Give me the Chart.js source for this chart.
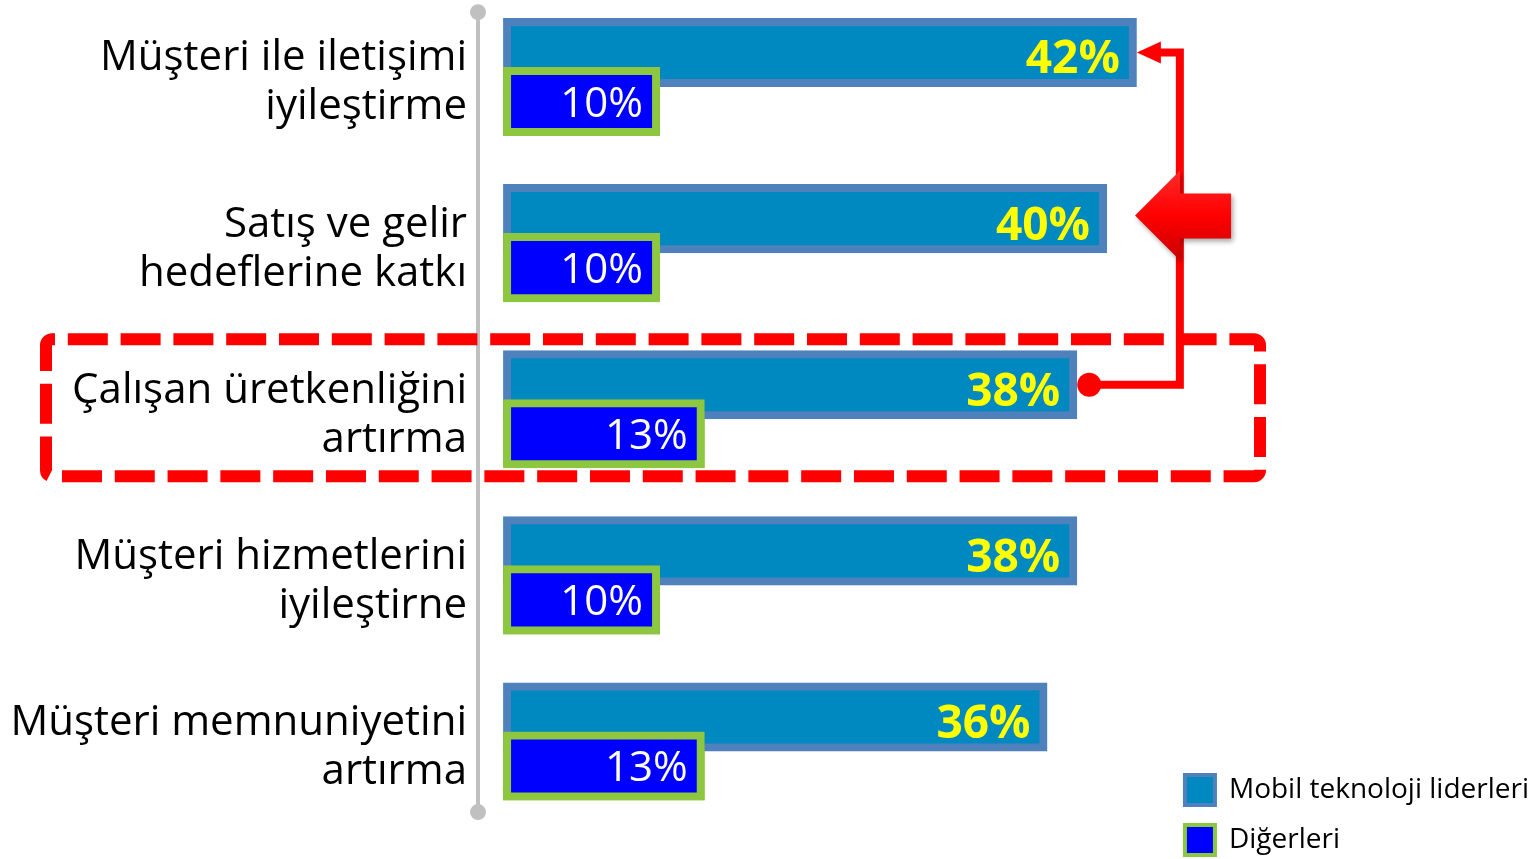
<!DOCTYPE html>
<html lang="tr">
<head>
<meta charset="utf-8">
<title>Mobil teknoloji liderleri vs Diğerleri</title>
<script src="https://cdn.jsdelivr.net/npm/chart.js@4.4.1/dist/chart.umd.min.js"></script>
<style>
  html, body { margin: 0; padding: 0; background: #fff; }
  #wrap { position: relative; width: 1539px; height: 859px; }
</style>
</head>
<body>
<div id="wrap"><canvas id="chart"></canvas></div>
<script>
/* ── Data ──────────────────────────────────────────────── */
const categories = [
  ['Müşteri ile iletişimi', 'iyileştirme'],
  ['Satış ve gelir', 'hedeflerine katkı'],
  ['Çalışan üretkenliğini', 'artırma'],
  ['Müşteri hizmetlerini', 'iyileştirne'],
  ['Müşteri memnuniyetini', 'artırma']
];
const leaders = [42, 40, 38, 38, 36];
const others  = [10, 10, 13, 10, 13];
const seriesNames = ['Mobil teknoloji liderleri', 'Diğerleri'];
const highlightIndex = 2;   // row inside the dashed box

const FONT = "'Open Sans', 'Noto Sans', sans-serif";
const PX_PER_PCT = 14.9;    // horizontal scale of the bars
const X_MIN = -1.95;        // gap between grey axis and bar start
const RED = '#FF0000';

/* ── Push the category labels down a touch ─────────────── */
const labelNudge = {
  id: 'labelNudge',
  afterLayout(chart) {
    const y = chart.scales.y;
    if (y._nudged) return;
    const draw = y.drawLabels;
    y.drawLabels = function (area) {
      this.ctx.save();
      this.ctx.translate(0, 6);
      draw.call(this, area);
      this.ctx.restore();
    };
    y._nudged = true;
  }
};

/* ── Grey axis with round ends (behind the bars) ───────── */
const axisLine = {
  id: 'axisLine',
  beforeDatasetsDraw(chart) {
    const { ctx, chartArea, scales: { y } } = chart;
    const step = y.getPixelForValue(1) - y.getPixelForValue(0);
    const x = chartArea.left;
    const top = y.getPixelForValue(0) - step * 0.39;
    const bottom = y.getPixelForValue(categories.length - 1) + step * 0.425;
    ctx.save();
    ctx.strokeStyle = '#C0C0C0';
    ctx.fillStyle = '#C0C0C0';
    ctx.lineWidth = 4;
    ctx.beginPath();
    ctx.moveTo(x, top);
    ctx.lineTo(x, bottom);
    ctx.stroke();
    [top, bottom].forEach(py => {
      ctx.beginPath();
      ctx.arc(x, py, 8, 0, Math.PI * 2);
      ctx.fill();
    });
    ctx.restore();
  }
};

/* ── Bar value labels ──────────────────────────────────── */
const barLabels = {
  id: 'barLabels',
  afterDatasetsDraw(chart) {
    const ctx = chart.ctx;
    // "Diğerleri" sits on top of the leaders bar
    chart.getDatasetMeta(1).data.forEach(bar => bar.draw(ctx));

    const styles = [
      { font: `bold 46px ${FONT}`, color: '#FFFF00', dy: 21 },
      { font: `42px ${FONT}`, color: '#FFFFFF', dy: 15 }
    ];
    ctx.save();
    ctx.textAlign = 'right';
    ctx.textBaseline = 'alphabetic';
    [leaders, others].forEach((values, di) => {
      const st = styles[di];
      ctx.font = st.font;
      ctx.fillStyle = st.color;
      chart.getDatasetMeta(di).data.forEach((bar, i) => {
        ctx.fillText(values[i] + '%', bar.x - 13, bar.y + st.dy);
      });
    });
    ctx.restore();
  }
};

/* ── Red highlight: dashed box, connector, block arrow ─── */
const highlight = {
  id: 'highlight',
  afterDraw(chart) {
    const { ctx, scales: { y } } = chart;
    const lead = chart.getDatasetMeta(0).data;
    const cy = y.getPixelForValue(highlightIndex);

    ctx.save();

    // dashed rounded box round the highlighted row
    const L = 46, R = 1260, T = cy - 70, B = cy + 67, r = 6;
    ctx.strokeStyle = RED;
    ctx.lineWidth = 12;
    ctx.setLineDash([40, 12.8]);
    ctx.lineDashOffset = 37;
    ctx.beginPath();
    ctx.moveTo(L + r, T);
    ctx.arcTo(R, T, R, B, r);
    ctx.arcTo(R, B, L, B, r);
    ctx.arcTo(L, B, L, T, r);
    ctx.arcTo(L, T, R, T, r);
    ctx.closePath();
    ctx.stroke();
    ctx.setLineDash([]);

    // connector from the highlighted bar up to the top bar
    const from = lead[highlightIndex], to = lead[0];
    const dotX = from.x + 16;
    const tipX = to.x + 4;
    const colX = to.x + 47;
    ctx.lineWidth = 8;
    ctx.lineJoin = 'miter';
    ctx.beginPath();
    ctx.moveTo(dotX, from.y);
    ctx.lineTo(colX, from.y);
    ctx.lineTo(colX, to.y);
    ctx.lineTo(tipX + 20, to.y);
    ctx.stroke();
    ctx.fillStyle = RED;
    ctx.beginPath();
    ctx.arc(dotX, from.y, 12, 0, Math.PI * 2);
    ctx.fill();
    ctx.beginPath();
    ctx.moveTo(tipX, to.y);
    ctx.lineTo(tipX + 24, to.y - 11);
    ctx.lineTo(tipX + 24, to.y + 11);
    ctx.closePath();
    ctx.fill();

    // big block arrow pointing at the second bar
    const mid = lead[1];
    const ax = mid.x + 32, ay = mid.y - 3;
    const grad = ctx.createLinearGradient(0, ay - 45, 0, ay + 45);
    grad.addColorStop(0, '#FF2A2A');
    grad.addColorStop(0.5, '#FF0000');
    grad.addColorStop(1, '#C80000');
    ctx.shadowColor = 'rgba(0,0,0,0.35)';
    ctx.shadowBlur = 5;
    ctx.shadowOffsetX = 2;
    ctx.shadowOffsetY = 3;
    ctx.fillStyle = grad;
    ctx.beginPath();
    ctx.moveTo(ax, ay);
    ctx.lineTo(ax + 45, ay - 45);
    ctx.lineTo(ax + 45, ay - 22);
    ctx.lineTo(ax + 96, ay - 22);
    ctx.lineTo(ax + 96, ay + 23);
    ctx.lineTo(ax + 45, ay + 23);
    ctx.lineTo(ax + 45, ay + 45);
    ctx.closePath();
    ctx.fill();

    ctx.restore();
  }
};

/* ── Chart ─────────────────────────────────────────────── */
new Chart(document.getElementById('chart'), {
  type: 'bar',
  data: {
    labels: categories,
    datasets: [
      {
        label: seriesNames[0],
        data: leaders,
        backgroundColor: '#0088C0',
        borderColor: '#4F81BD',
        borderWidth: 8,
        borderSkipped: false,
        inflateAmount: 4,
        clip: false
      },
      {
        label: seriesNames[1],
        data: others,
        backgroundColor: '#0000FF',
        borderColor: '#8DC63F',
        borderWidth: 8,
        borderSkipped: false,
        inflateAmount: 4,
        clip: false
      }
    ]
  },
  options: {
    indexAxis: 'y',
    responsive: true,
    maintainAspectRatio: false,
    animation: false,
    events: [],
    categoryPercentage: 0.59,
    barPercentage: 1.245,
    layout: { padding: { top: 77, bottom: -16, left: 0, right: 0 } },
    scales: {
      y: {
        offset: false,
        grid: { display: false, drawTicks: false },
        border: { display: false },
        ticks: {
          padding: 11,
          color: '#000',
          font: { family: FONT, size: 42, lineHeight: 49 / 42 }
        },
        afterFit(scale) { scale.width = 478; }
      },
      x: {
        min: X_MIN,
        bounds: 'data',
        grid: { display: false, drawTicks: false },
        border: { display: false },
        ticks: { display: false },
        afterDataLimits(scale) { scale.max = X_MIN + scale.maxWidth / PX_PER_PCT; },
        afterFit(scale) { scale.height = 133.5; }
      }
    },
    plugins: {
      tooltip: { enabled: false },
      legend: {
        position: 'right',
        align: 'end',
        maxWidth: 375,
        labels: {
          boxWidth: 30,
          boxHeight: 30,
          padding: 20,
          color: '#000',
          font: { family: FONT, size: 28 },
          generateLabels(chart) {
            return Chart.defaults.plugins.legend.labels.generateLabels(chart)
              .map(item => ({ ...item, lineWidth: 4 }));
          }
        }
      }
    }
  },
  plugins: [labelNudge, axisLine, barLabels, highlight]
});
</script>
</body>
</html>
